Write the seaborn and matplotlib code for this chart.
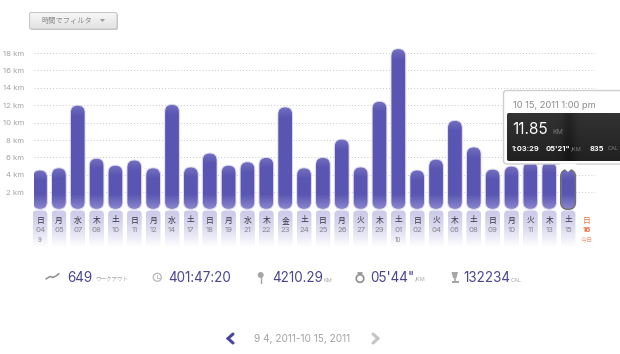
import numpy as np
import pandas as pd
import matplotlib
matplotlib.use("Agg")
import matplotlib.pyplot as plt
import seaborn as sns
from matplotlib.patches import FancyBboxPatch, Circle, Polygon, Rectangle

# ---- data ----
weekdays = ["日","月","水","木","土","日","月","水","土","日","月","水","木","金","土",
            "日","月","火","木","土","日","火","木","土","日","月","火","木","土","日"]
days = ["04","05","07","08","10","11","12","14","17","18","19","21","22","23","24",
        "25","26","27","29","01","02","04","06","08","09","10","11","13","15","16"]
months = ["9","","","","","","","","","","","","","","","","","","","10","","","","","","","","","","今日"]
km = [4.55,4.8,12.0,5.9,5.1,5.7,4.8,12.1,4.9,6.5,5.1,5.5,6.0,11.8,4.8,
      6.0,8.1,4.9,12.45,18.5,4.55,5.8,10.25,7.2,4.65,5.0,5.5,5.5,4.6,np.nan]
ytick_km = [2,4,6,8,10,12,14,16,18]
stats = ["649","401:47:20","4210.29","05'44\"","132234"]
stat_units = ["ワークアウト","","KM","/KM","CAL"]

# ---- style ----
sns.set_theme(style="white")
plt.rcParams["font.family"] = ["Inter", "Noto Sans CJK JP", "DejaVu Sans"]
W, H = 620, 354
fig = plt.figure(figsize=(W/100, H/100), dpi=100, facecolor="white")

PX_X0, PX_STEP = 40.0, 18.86      # first bar centre, bar spacing in pixels
PX_Y0, PX_KM = 209.6, 8.7         # zero line and pixels per km
ax_l, ax_r, ax_t = 34, 595, 45
ax = fig.add_axes([ax_l/W, 1-PX_Y0/H, (ax_r-ax_l)/W, (PX_Y0-ax_t)/H])

df = pd.DataFrame({"pos": [str(i) for i in range(len(km))], "km": km})
sns.barplot(data=df, x="pos", y="km", ax=ax, color="#5a55b2", width=0.78, saturation=1)

xlim = ((ax_l-PX_X0)/PX_STEP, (ax_r-PX_X0)/PX_STEP)
ylim = (0, (PX_Y0-ax_t)/PX_KM)
aspect = PX_STEP/PX_KM

def rgb(c):
    return np.array(matplotlib.colors.to_rgb(c))
core, top_c, bot_c = rgb("#5a55b2"), rgb("#7470c0"), rgb("#8e8acf")

bars = list(ax.patches)
for b in bars:
    x, w, h = b.get_x(), b.get_width(), b.get_height()
    b.set_visible(False)
    if not np.isfinite(h) or h <= 0:
        continue
    rad = w/2
    ax.add_patch(FancyBboxPatch((x, 0.03), w, h-0.03,
                 boxstyle=f"round,pad=0,rounding_size={rad}",
                 mutation_aspect=aspect, fc="none", ec="#dcdaf0", lw=0.7, zorder=3))
    n = 200
    t = np.linspace(0, h, n)      # km above zero
    col = np.tile(core, (n, 1))
    fade_top = np.clip((h-t)/1.2, 0, 1)[:, None]
    col = top_c*(1-fade_top) + col*fade_top
    fade_bot = np.clip(t/1.8, 0, 1)[:, None]
    col = bot_c*(1-fade_bot) + col*fade_bot
    im = ax.imshow(col[:, None, :], origin="lower", extent=(x, x+w, 0, h),
                   aspect="auto", zorder=2.5, interpolation="bilinear")
    clip = FancyBboxPatch((x, 0.03), w, h-0.03,
                          boxstyle=f"round,pad=0,rounding_size={rad}",
                          mutation_aspect=aspect, transform=ax.transData)
    im.set_clip_path(clip)

# highlighted last workout
sel = bars[28]
ax.add_patch(FancyBboxPatch((sel.get_x(), 0.03), sel.get_width(), sel.get_height()-0.03,
             boxstyle=f"round,pad=0,rounding_size={sel.get_width()/2}",
             mutation_aspect=aspect, fc="none", ec="#6e6e72", lw=1.1, zorder=3.2))

ax.set_xlim(*xlim); ax.set_ylim(*ylim)
sns.despine(ax=ax, left=True, bottom=True, right=True, top=True)
ax.set_xlabel(""); ax.set_ylabel("")
ax.patch.set_alpha(0)

ax.set_yticks(ytick_km)
ax.set_yticklabels([f"{v} km" for v in ytick_km], fontsize=5.6, color="#a4a4a4")
ax.yaxis.grid(True, color="#c8c8c8", lw=0.7, ls=(0, (1, 2.2)), zorder=1)
ax.xaxis.grid(False)
ax.set_axisbelow(True)
ax.tick_params(axis="y", length=0, pad=7)

ax.set_xticks(range(len(days)))
ax.set_xticklabels(days)
ax.tick_params(axis="x", length=0, labelbottom=False)

# ---- overlay in pixel units ----
ov = fig.add_axes([0, 0, 1, 1], zorder=5)
ov.set_xlim(0, W); ov.set_ylim(H, 0); ov.axis("off"); ov.patch.set_alpha(0)

bw = 14.7
for i, (wd, d, m) in enumerate(zip(weekdays, days, months)):
    cx = PX_X0 + i*PX_STEP
    today = i == len(days)-1
    if not today:
        g = np.linspace(0, 1, 60)[:, None, None]
        arr = rgb("#cdcbe9")*(1-g**1.5) + rgb("#ffffff")*(g**1.5)
        im = ov.imshow(arr, extent=(cx-bw/2, cx+bw/2, 247, 210.5), aspect="auto", zorder=1)
        clip = FancyBboxPatch((cx-bw/2, 210.5), bw, 60, boxstyle="round,pad=0,rounding_size=4",
                              transform=ov.transData)
        im.set_clip_path(clip)
    ov.text(cx, 220, wd, ha="center", va="center", fontsize=5.6,
            color="#f0703f" if today else "#33333d", zorder=2)
    ov.text(cx, 230.5, d, ha="center", va="center", fontsize=5.6,
            color="#f0703f" if today else "#85858f",
            fontweight="bold" if today else "normal", zorder=2)
    if m:
        ov.text(cx, 239.5, m, ha="center", va="center", fontsize=4.4,
                color="#f5946f" if today else "#85858f", zorder=2)

# filter button
ov.add_patch(FancyBboxPatch((30.5, 13.5), 87.5, 16.5, boxstyle="round,pad=0,rounding_size=2",
             fc="#c4c4c4", ec="none", zorder=1))
g = np.linspace(0, 1, 30)[:, None, None]
arr = rgb("#f8f8f8")*(1-g) + rgb("#e2e2e2")*g
btn = ov.imshow(arr, extent=(29.5, 117, 29, 12.5), aspect="auto", zorder=1.5)
btn.set_clip_path(FancyBboxPatch((29.5, 12.5), 87.5, 16.5, boxstyle="round,pad=0,rounding_size=2",
                                 transform=ov.transData))
ov.add_patch(FancyBboxPatch((29.5, 12.5), 87.5, 16.5, boxstyle="round,pad=0,rounding_size=2",
             fc="none", ec="#c8c8c8", lw=0.8, zorder=1.6))
ov.text(42, 20.5, "時間でフィルタ", fontsize=5.2, va="center", color="#8a8a8a", zorder=2)
ov.add_patch(Polygon([(100, 19), (105, 19), (102.5, 22)], fc="#9a9a9a", ec="none", zorder=2))

# tooltip
ov.add_patch(FancyBboxPatch((503.5, 90.5), 140, 73.5, boxstyle="round,pad=0,rounding_size=3",
             fc="white", ec="#cfcfcf", lw=1, zorder=6))
v = np.linspace(0, 1, 48)[:, None]
h_ = np.linspace(507, 647, 140)[None, :]
dark = 0.20 - 0.07*v + 0.0*h_
dark = dark - 0.05*np.exp(-((h_-569)/7)**2)
dark = np.repeat(dark[:, :, None], 3, axis=2)
db = ov.imshow(np.clip(dark, 0, 1), extent=(507, 647, 161, 113), aspect="auto", zorder=6.1)
db.set_clip_path(FancyBboxPatch((507, 113), 140, 48, boxstyle="round,pad=0,rounding_size=2",
                                transform=ov.transData))
ov.add_patch(Polygon([(559, 163.5), (577, 163.5), (568, 172)], fc="white", ec="none", zorder=6.2))
ov.text(513, 105, "10 15, 2011 1:00 pm", fontsize=6.7, color="#8c8c8c", va="center", zorder=7)
ov.text(512, 129.5, "11.85", fontsize=11, color="white", va="center", zorder=7)
ov.text(552, 132, "KM", fontsize=5, color="#7c7c7c", va="center", zorder=7)
ov.text(512, 149, "1:03:29", fontsize=5.4, color="white", va="center", fontweight="bold", zorder=7)
ov.text(546, 149, "05'21\"", fontsize=5.4, color="white", va="center", fontweight="bold", zorder=7)
ov.text(571, 149, "/KM", fontsize=4, color="#7c7c7c", va="center", zorder=7)
ov.text(590, 149, "835", fontsize=5.4, color="white", va="center", fontweight="bold", zorder=7)
ov.text(608, 149, "CAL", fontsize=4, color="#7c7c7c", va="center", zorder=7)

# stats row
stat_x = [67, 168.5, 272, 370.5, 463]
unit_x = [95, None, 323, 414.5, 511]
NUM = "#4a4690"
for s, sx, u, ux in zip(stats, stat_x, stat_units, unit_x):
    ov.text(sx, 277.5, s, fontsize=9.7, color=NUM, va="center")
    if u:
        ov.text(ux, 280, u, fontsize=4.0, color="#a8a8a8", va="center")

ICON = "#a6a6a6"
# trend line icon
ov.plot([46, 50, 53, 56, 59], [279, 276.5, 277.5, 276, 273.5], color="#8f8f8f", lw=1.1)
# clock
ov.add_patch(Circle((157.3, 277.3), 4.0, fc="none", ec="#bdbdbd", lw=1))
ov.plot([157.3, 157.3, 160], [274.5, 277.8, 277.8], color="#bdbdbd", lw=0.7)
# pin
ov.add_patch(Circle((260.7, 275), 3, fc=ICON, ec="none"))
ov.plot([260.7, 260.7], [277, 282.5], color=ICON, lw=1)
# stopwatch
ov.add_patch(Circle((360, 278.5), 3.8, fc="none", ec="#8f8f8f", lw=1.2))
ov.plot([358, 362], [272.6, 272.6], color="#8f8f8f", lw=1.2)
# trophy
ov.add_patch(Polygon([(451.5, 272), (458, 272), (456.5, 278), (453, 278)], fc=ICON, ec="none"))
ov.add_patch(Rectangle((451.5, 281), 7, 2, fc=ICON, ec="none"))
ov.plot([454.7, 454.7], [277, 281], color=ICON, lw=1.2)

# date navigation
ov.plot([233, 228, 233], [334, 338.5, 343], color="#4a45a0", lw=2.2, solid_joinstyle="miter")
ov.plot([373, 378, 373], [334, 338.5, 343], color="#c4c4c4", lw=2.2, solid_joinstyle="miter")
ov.text(254, 338.5, "9 4, 2011-10 15, 2011", fontsize=7.3, color="#a4a4a4", va="center")

ov.set_xlim(0, W); ov.set_ylim(H, 0)
fig.savefig("out.png", dpi=100, facecolor="white")
